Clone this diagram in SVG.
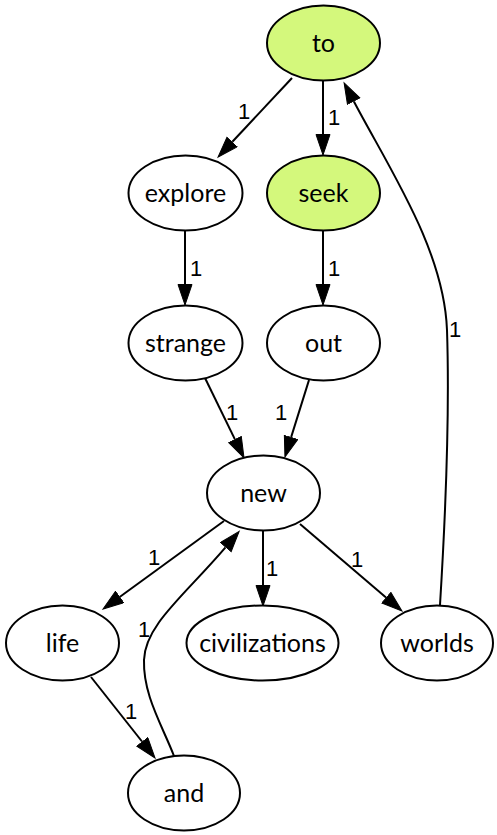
<svg xmlns="http://www.w3.org/2000/svg" width="497" height="835" viewBox="0 0 497 835">
<defs>
<marker id="ah" markerUnits="userSpaceOnUse" markerWidth="23" markerHeight="17" refX="0" refY="7.5" orient="auto">
<path d="M0.5,0.5 L21,7.5 L0.5,14.5 z" fill="#000" stroke="#000" stroke-width="1"/>
</marker>
<style>
.n ellipse{fill:#fff;stroke:#000;stroke-width:2}
.n.g ellipse{fill:#d4f87c}
.n text{font-family:Lato,"Liberation Sans",sans-serif;font-size:25px;text-anchor:middle;fill:#000}
.e path{fill:none;stroke:#000;stroke-width:2;marker-end:url(#ah)}
.lbl{font-family:"Liberation Sans",Arial,sans-serif;font-size:22px;text-anchor:middle;fill:#000}
</style>
</defs>
<rect width="497" height="835" fill="#fff"/>
<g id="edges" class="e">
<path d="M292,78 L232.4,141.7"/>
<text class="lbl" x="244" y="119">1</text>
<path d="M323,80 L323,134"/>
<text class="lbl" x="334" y="125">1</text>
<path d="M185,231 L185,284"/>
<text class="lbl" x="196" y="276">1</text>
<path d="M323,231 L323,284"/>
<text class="lbl" x="334" y="276">1</text>
<path d="M205,378 L234.8,439.1"/>
<text class="lbl" x="232" y="420">1</text>
<path d="M309,380 L291.2,437"/>
<text class="lbl" x="281" y="420">1</text>
<path d="M224,521 L120,596.7"/>
<text class="lbl" x="154" y="565">1</text>
<path d="M263,531 L263,585"/>
<text class="lbl" x="272" y="576">1</text>
<path d="M300,524 L386,597.4"/>
<text class="lbl" x="357" y="567">1</text>
<path d="M91,677 L142,741.5"/>
<text class="lbl" x="131" y="719">1</text>
<path d="M174,756 C162,725 143,695 144,660 C145,625 185,595 225.5,547.4"/>
<text class="lbl" x="144" y="637">1</text>
<path d="M440,605 C444,540 450,420 447,330 C444,250 390,170 353.9,101.5"/>
<text class="lbl" x="455" y="337">1</text>
</g>
<g id="to" class="n g"><ellipse cx="323.5" cy="43" rx="56.5" ry="37.5"/><text x="323.5" y="52">to</text></g>
<g id="explore" class="n"><ellipse cx="185.5" cy="193" rx="57" ry="37.5"/><text x="185.5" y="202">explore</text></g>
<g id="seek" class="n g"><ellipse cx="323.5" cy="193" rx="56.5" ry="37.5"/><text x="323.5" y="202">seek</text></g>
<g id="strange" class="n"><ellipse cx="185.5" cy="343" rx="57" ry="37.5"/><text x="185.5" y="352">strange</text></g>
<g id="out" class="n"><ellipse cx="323.5" cy="343" rx="56.5" ry="37.5"/><text x="323.5" y="352">out</text></g>
<g id="new" class="n"><ellipse cx="263.5" cy="493" rx="56.5" ry="37.5"/><text x="263.5" y="502">new</text></g>
<g id="life" class="n"><ellipse cx="62.5" cy="643" rx="56.5" ry="37.5"/><text x="62.5" y="652">life</text></g>
<g id="civilizations" class="n"><ellipse cx="262.5" cy="643" rx="76" ry="37.5"/><text x="262.5" y="652">civilizations</text></g>
<g id="worlds" class="n"><ellipse cx="437" cy="643" rx="56" ry="37.5"/><text x="437" y="652">worlds</text></g>
<g id="and" class="n"><ellipse cx="184" cy="793" rx="56" ry="37.5"/><text x="184" y="802">and</text></g>
</svg>
